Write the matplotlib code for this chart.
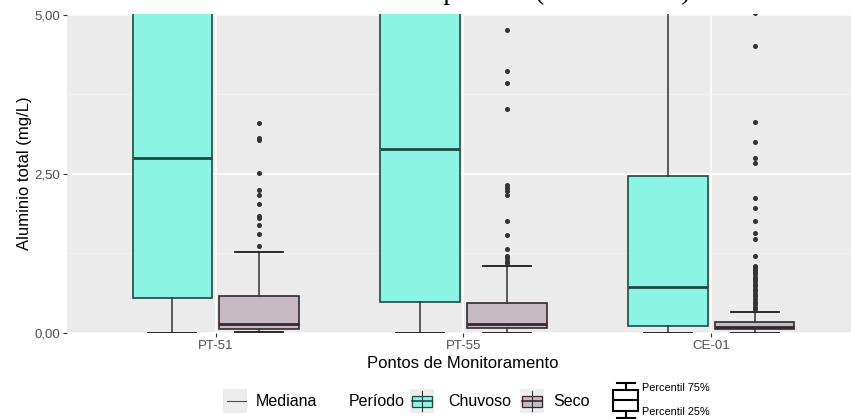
import numpy as np
import matplotlib.pyplot as plt
from matplotlib.patches import Rectangle
from matplotlib.lines import Line2D

# dados
pontos = ["PT-51", "PT-55", "CE-01"]

# Chuvoso - caixas cortadas no topo (ylim 0-5)
chuv_q1 = [0.55, 0.49, 0.10]
chuv_med = [2.75, 2.88, 0.72]
chuv_q3 = [6.50, 6.80, 2.47]
chuv_wlo = [0.0, 0.0, 0.0]
chuv_whi = [12.0, 12.0, 6.0]

# Seco
seco_q1 = [0.06, 0.08, 0.06]
seco_med = [0.14, 0.13, 0.09]
seco_q3 = [0.57, 0.46, 0.17]
seco_wlo = [0.01, 0.0, 0.0]
seco_whi = [1.27, 1.05, 0.33]

out_pt51 = [3.30, 3.06, 3.03, 2.51, 2.25, 2.16, 2.02, 1.84, 1.80, 1.70, 1.55, 1.37]
out_pt55 = [4.76, 4.12, 3.93, 3.52, 2.32, 2.27, 2.22, 2.17, 1.75, 1.54, 1.31,
            1.21, 1.18, 1.13, 1.10]
out_ce01 = [5.02, 4.50, 3.31, 2.99, 2.74, 2.66, 2.12, 1.96, 1.76, 1.57, 1.48,
            1.20, 1.05, 1.02, 0.98, 0.95, 0.92, 0.88, 0.85, 0.81, 0.77, 0.73,
            0.69, 0.65, 0.61, 0.57, 0.53, 0.49, 0.45, 0.41, 0.37]
seco_out = [out_pt51, out_pt55, out_ce01]

titulo = "Alumínio total no período (2014 a 2019)"

plt.rcParams['font.family'] = ['Liberation Sans', 'DejaVu Sans']

W, H = 851, 419
fig = plt.figure(figsize=(W / 100, H / 100), dpi=100)

# painel (pixels): esquerda 67, direita 860 (cortado), topo 14, base 333
ax = fig.add_axes([67 / W, 1 - 333 / H, (860 - 67) / W, (333 - 14) / H])
ax.set_facecolor('#EBEBEB')
for s in ax.spines.values():
    s.set_visible(False)

cor_chuv = '#8BF4E5'
cor_seco = '#C8BAC2'
borda_chuv = '#1F4A44'
borda_seco = '#33292E'

x = np.arange(1, len(pontos) + 1)
desl = 0.175
larg = 0.32


def stats(q1, med, q3, wlo, whi, fl):
    return [dict(q1=a, med=b, q3=c, whislo=d, whishi=e, fliers=f)
            for a, b, c, d, e, f in zip(q1, med, q3, wlo, whi, fl)]


def desenha(st, pos, fill, edge):
    ax.bxp(st, positions=pos, widths=larg, capwidths=0.195, patch_artist=True,
           boxprops=dict(facecolor=fill, edgecolor=edge, linewidth=1.2),
           medianprops=dict(color=edge, linewidth=2.0),
           whiskerprops=dict(color='#333333', linewidth=1.1),
           capprops=dict(color='#1a1a1a', linewidth=1.3),
           flierprops=dict(marker='o', markersize=2.6, markerfacecolor='#333333',
                           markeredgecolor='#333333', linestyle='none'),
           manage_ticks=False, zorder=3)


desenha(stats(chuv_q1, chuv_med, chuv_q3, chuv_wlo, chuv_whi, [[], [], []]),
        x - desl, cor_chuv, borda_chuv)
desenha(stats(seco_q1, seco_med, seco_q3, seco_wlo, seco_whi, seco_out),
        x + desl, cor_seco, borda_seco)

ax.set_xlim(0.4, 3.6)
ax.set_ylim(-0.005, 5.01)
ax.set_xticks(x)
ax.set_xticklabels(pontos)
ax.set_yticks([0, 2.5, 5])
ax.set_yticklabels(['0,00', '2,50', '5,00'])
ax.set_yticks([1.25, 3.75], minor=True)
ax.tick_params(axis='both', colors='#333333', labelcolor='#4D4D4D',
               labelsize=9.5, length=3, width=0.8)
ax.tick_params(axis='x', pad=2)
ax.tick_params(axis='y', pad=2)
ax.tick_params(axis='y', which='minor', length=0)
ax.grid(True, which='major', color='white', linewidth=1.1, zorder=0)
ax.grid(True, which='minor', axis='y', color='#F4F4F4', linewidth=0.6, zorder=0)
ax.set_axisbelow(True)

fig.text(25 / W, 1 - 173 / H, 'Aluminio total (mg/L)', rotation=90,
         ha='center', va='center', fontsize=12)
fig.text(463 / W, 1 - 363 / H, 'Pontos de Monitoramento',
         ha='center', va='center', fontsize=12)

# titulo cortado no topo
fig.text(465 / W, 1 + 1 / H, titulo, ha='center', va='baseline', fontsize=20,
         family=['Liberation Serif', 'DejaVu Serif'])


# legenda (em pixels)
def P(px, py):
    return px / W, 1 - py / H


def ret(x0, y0, w, h, **kw):
    fig.add_artist(Rectangle(P(x0, y0 + h), w / W, h / H,
                             transform=fig.transFigure, **kw))


def lin(xs, ys, **kw):
    fig.add_artist(Line2D([v / W for v in xs], [1 - v / H for v in ys],
                          transform=fig.transFigure, **kw))


def chave_box(x0, fill, edge):
    ret(x0, 389, 24, 24, facecolor='#EDEDED', edgecolor='none')
    cx = x0 + 12
    lin([cx, cx], [391, 411], color='#333333', lw=0.8)
    ret(x0 + 2, 395.5, 20, 11, facecolor=fill, edgecolor=edge, lw=0.9)
    lin([x0 + 2, x0 + 22], [401, 401], color=edge, lw=1.2)


ly = 401
ret(223, 389, 24, 24, facecolor='#EDEDED', edgecolor='none')
lin([227, 246], [ly, ly], color='#4D4D4D', lw=0.8)
fig.text(*P(256, ly), 'Mediana', ha='left', va='center', fontsize=11.5)
fig.text(*P(349, ly), 'Período', ha='left', va='center', fontsize=11.5)
chave_box(410, cor_chuv, borda_chuv)
fig.text(*P(448, ly), 'Chuvoso', ha='left', va='center', fontsize=11.5)
chave_box(520, cor_seco, borda_seco)
fig.text(*P(553, ly), 'Seco', ha='left', va='center', fontsize=11.5)

# esquema do boxplot
ret(613, 390, 25, 21, facecolor='white', edgecolor='black', lw=1.5)
lin([613, 638], [400, 400], color='black', lw=1.5)
lin([625.5, 625.5], [383, 390], color='black', lw=1.5)
lin([625.5, 625.5], [411, 418], color='black', lw=1.5)
lin([617, 635], [383, 383], color='black', lw=1.5)
lin([617, 635], [417.5, 417.5], color='black', lw=1.5)
fig.text(*P(642, 388), 'Percentil 75%', ha='left', va='center', fontsize=7.8)
fig.text(*P(642, 412), 'Percentil 25%', ha='left', va='center', fontsize=7.8)

fig.savefig('out.png', dpi=100)
